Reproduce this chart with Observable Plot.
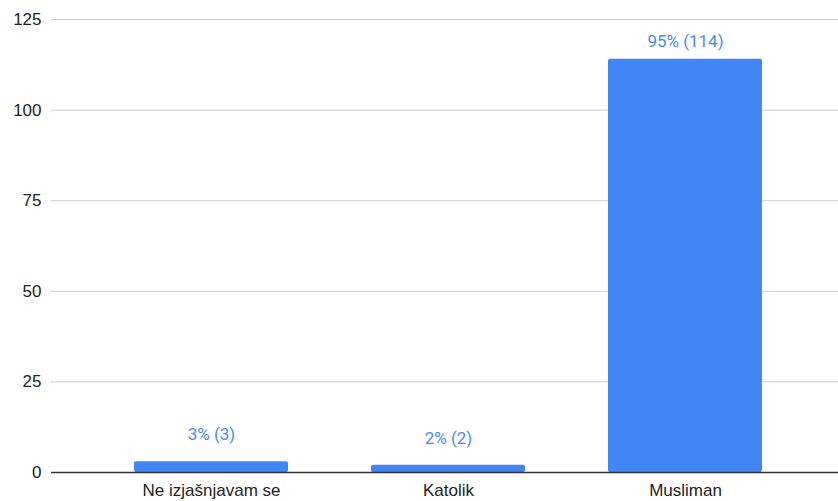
<!DOCTYPE html>
<html>
<head>
<meta charset="utf-8">
<script src="https://cdn.jsdelivr.net/npm/d3@7"></script>
<script src="https://cdn.jsdelivr.net/npm/@observablehq/plot@0.6"></script>
<style>
  html, body { margin: 0; padding: 0; background: #fff; }
  svg { display: block; }
</style>
</head>
<body>
<div id="chart"></div>
<script>
const categories = ["Ne izjašnjavam se", "Katolik", "Musliman"];
const counts = [3, 2, 114];
const percents = ["3%", "2%", "95%"];
const yTicks = [0, 25, 50, 75, 100, 125];

const data = categories.map((c, i) => ({
  category: c,
  count: counts[i],
  label: `${percents[i]} (${counts[i]})`
}));

const axisFont = "'Liberation Sans', Arial, sans-serif";
const labelFont = "Roboto, Arial, sans-serif";

const chart = Plot.plot({
  width: 838,
  height: 501,
  marginLeft: 51,
  marginRight: 0,
  marginTop: 19,
  marginBottom: 29,
  style: { fontFamily: axisFont, fontSize: "17px", color: "#222" },
  x: {
    domain: categories,
    range: [51, 844],
    paddingInner: 0.352,
    paddingOuter: 0.345,
    label: null
  },
  y: {
    domain: [0, 125],
    label: null
  },
  marks: [
    Plot.gridY(yTicks.filter(d => d !== 0), { stroke: "#cccccc", strokeOpacity: 1, strokeWidth: 1 }),
    Plot.axisY({ ticks: yTicks, tickSize: 0, tickPadding: 10, label: null, fontSize: 17, fill: "#222", fontFamily: axisFont }),
    Plot.axisX({ tickSize: 0, tickPadding: 11, label: null, fontSize: 17, fill: "#222", fontFamily: axisFont }),
    Plot.barY(data, { x: "category", y: "count", fill: "#4285f4", rx: 2 }),
    Plot.ruleY([0], { stroke: "#333333", strokeWidth: 1.3 }),
    Plot.text(data.filter(d => d.count < 50), {
      x: "category", y: "count", text: "label", dy: -27,
      fill: "#4a89f4", fontSize: 17, fontFamily: labelFont
    }),
    Plot.text(data.filter(d => d.count >= 50), {
      x: "category", y: "count", text: "label", dy: -18,
      fill: "#4a89f4", fontSize: 17, fontFamily: labelFont
    })
  ]
});

document.getElementById("chart").appendChild(chart);
</script>
</body>
</html>
